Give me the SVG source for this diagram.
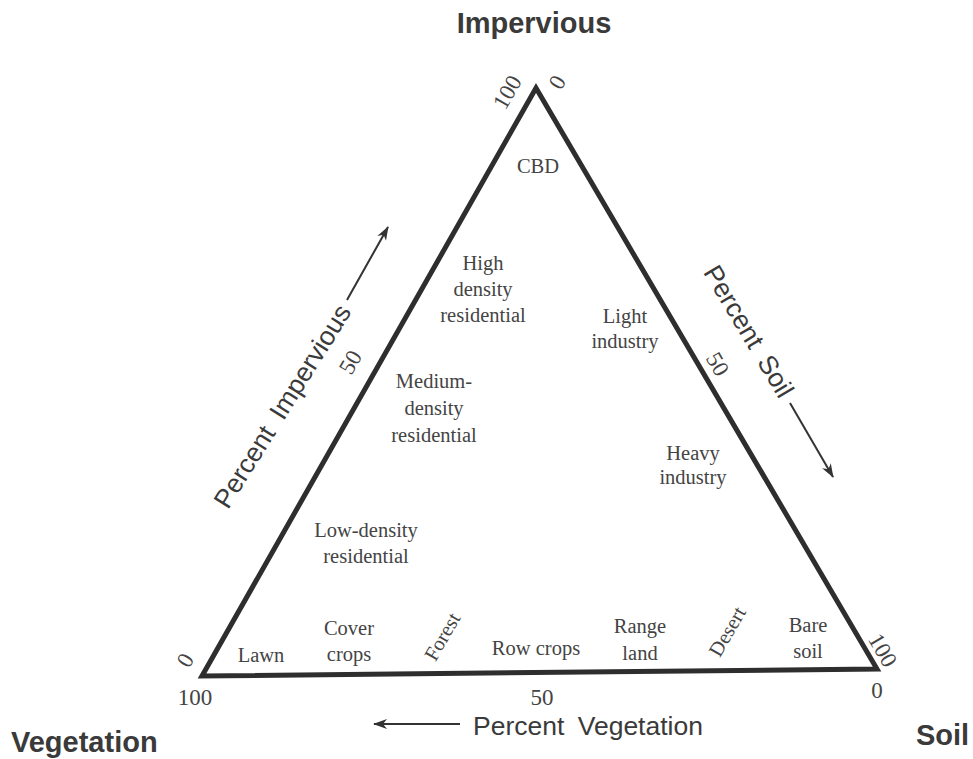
<svg xmlns="http://www.w3.org/2000/svg" width="973" height="759" viewBox="0 0 973 759">
<style>
.title{font-family:"Liberation Sans",Arial,sans-serif;font-weight:bold;font-size:29px;fill:#3a3a3a}
.axis{font-family:"Liberation Sans",Arial,sans-serif;font-size:26.5px;fill:#3a3a3a;word-spacing:6px}
.lbl{font-family:"Liberation Serif","Times New Roman",serif;font-size:20.5px;fill:#444;text-anchor:middle}
.num{font-family:"Liberation Serif","Times New Roman",serif;font-size:23px;fill:#444;text-anchor:middle}
.edge{fill:none;stroke:#2e2e2e;stroke-width:5;stroke-linejoin:miter}
.arr{fill:none;stroke:#333;stroke-width:2;marker-end:url(#ah)}
</style>
<defs>
<marker id="ah" viewBox="0 0 14 10" refX="13" refY="5" markerWidth="14" markerHeight="10" markerUnits="userSpaceOnUse" orient="auto">
<path d="M0,0 L14,5 L0,10 L4,5 z" fill="#333"/>
</marker>
</defs>
<rect width="973" height="759" fill="#fff"/>

<g id="triangle">
<polygon class="edge" points="536,88 202,676 877,669"/>
</g>

<g id="connectors">
<line class="arr" x1="347" y1="300" x2="388" y2="227"/>
<line class="arr" x1="790" y1="403" x2="833" y2="477"/>
<line class="arr" x1="460" y1="724" x2="374" y2="724"/>
</g>

<g id="vertex-impervious"><text class="title" x="534" y="33" text-anchor="middle">Impervious</text></g>
<g id="vertex-vegetation"><text class="title" x="11" y="752">Vegetation</text></g>
<g id="vertex-soil"><text class="title" x="916" y="745">Soil</text></g>

<g id="axis-impervious">
<text class="axis" text-anchor="middle" transform="translate(290,411) rotate(-58)">Percent Impervious</text>
</g>
<g id="axis-soil">
<text class="axis" text-anchor="middle" transform="translate(741,336) rotate(59)">Percent Soil</text>
</g>
<g id="axis-vegetation">
<text class="axis" x="473" y="735">Percent Vegetation</text>
</g>

<g id="ticks">
<text class="num" transform="translate(507,92) rotate(-60)" y="8">100</text>
<text class="num" transform="translate(557,82) rotate(-60)" y="8">0</text>
<text class="num" transform="translate(350,362) rotate(-60)" y="8">50</text>
<text class="num" transform="translate(185,660) rotate(-60)" y="8">0</text>
<text class="num" transform="translate(718,364) rotate(60)" y="8">50</text>
<text class="num" transform="translate(883,650) rotate(60)" y="8">100</text>
<text class="num" x="195" y="705">100</text>
<text class="num" x="542" y="705">50</text>
<text class="num" x="877" y="698">0</text>
</g>

<g id="cbd"><text class="lbl" x="538" y="173">CBD</text></g>
<g id="high-density"><text class="lbl" x="483" y="270">High</text><text class="lbl" x="483" y="296">density</text><text class="lbl" x="483" y="322">residential</text></g>
<g id="light-industry"><text class="lbl" x="625" y="323">Light</text><text class="lbl" x="625" y="348">industry</text></g>
<g id="medium-density"><text class="lbl" x="434" y="388">Medium-</text><text class="lbl" x="434" y="415">density</text><text class="lbl" x="434" y="442">residential</text></g>
<g id="heavy-industry"><text class="lbl" x="693" y="460">Heavy</text><text class="lbl" x="693" y="484">industry</text></g>
<g id="low-density"><text class="lbl" x="366" y="537">Low-density</text><text class="lbl" x="366" y="563">residential</text></g>
<g id="lawn"><text class="lbl" x="261" y="662">Lawn</text></g>
<g id="cover-crops"><text class="lbl" x="349" y="635">Cover</text><text class="lbl" x="349" y="661">crops</text></g>
<g id="forest"><text class="lbl" transform="translate(443,637) rotate(-60)" y="6">Forest</text></g>
<g id="row-crops"><text class="lbl" x="536" y="655">Row crops</text></g>
<g id="range-land"><text class="lbl" x="640" y="633">Range</text><text class="lbl" x="640" y="660">land</text></g>
<g id="desert"><text class="lbl" transform="translate(728,632) rotate(-60)" y="6">Desert</text></g>
<g id="bare-soil"><text class="lbl" x="808" y="632">Bare</text><text class="lbl" x="808" y="658">soil</text></g>
</svg>
